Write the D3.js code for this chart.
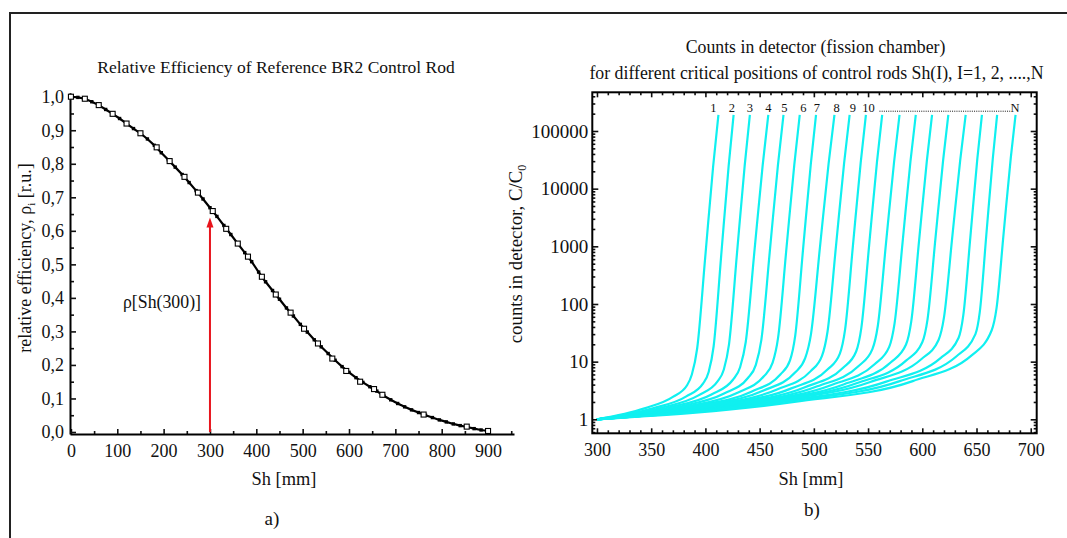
<!DOCTYPE html>
<html>
<head>
<meta charset="utf-8">
<script src="https://cdn.jsdelivr.net/npm/d3@7"></script>
<style>
body { margin: 0; background: #fff; }
text { font-family: "Liberation Serif", "Times New Roman", serif; fill: #111; }
</style>
</head>
<body>
<svg id="chart" width="1067" height="538"></svg>
<script>
// ---- a) relative efficiency of the reference rod ----
const effSh = d3.range(0, 901, 15);
const effRho = [
  1.000, 0.998, 0.994, 0.985, 0.975, 0.962, 0.949, 0.935, 0.920, 0.905,
  0.891, 0.874, 0.855, 0.833, 0.812, 0.790, 0.768, 0.744, 0.720, 0.695,
  0.669, 0.643, 0.616, 0.589, 0.562, 0.535, 0.508, 0.477, 0.448, 0.422,
  0.396, 0.370, 0.346, 0.321, 0.298, 0.275, 0.254, 0.234, 0.214, 0.195,
  0.178, 0.162, 0.148, 0.135, 0.122, 0.108, 0.096, 0.085, 0.075, 0.066,
  0.058, 0.050, 0.043, 0.036, 0.030, 0.024, 0.019, 0.015, 0.010, 0.006,
  0.003
];
const refSh  = [0, 30, 60, 90, 120, 150, 185, 213, 245, 274, 306, 335, 360, 382, 412, 442, 474, 503, 533, 564, 594, 624, 654, 672, 761, 854, 900];
const refRho = [1.0, 0.994, 0.975, 0.949, 0.920, 0.891, 0.849, 0.808, 0.761, 0.714, 0.659, 0.606, 0.562, 0.523, 0.463, 0.410, 0.356, 0.308, 0.264, 0.219, 0.182, 0.150, 0.128, 0.111, 0.052, 0.016, 0.003];
const arrowSh = 300, arrowTip = 0.64;

const xTicksL = [0, 100, 200, 300, 400, 500, 600, 700, 800, 900];
const yTicksL = [0, 0.1, 0.2, 0.3, 0.4, 0.5, 0.6, 0.7, 0.8, 0.9, 1.0];

// ---- b) counts in detector, one curve per critical position ----
const countCurves = [
  [[300,1],[343.8,1.55],[370,2.45],[383.1,3.9],[387.5,6],[392.4,16.9],[399.8,637],[407.1,24000],[412,190000]],
  [[300,1],[351.5,1.55],[382.4,2.5],[397.9,4.2],[403,6.6],[407.6,18.5],[414.5,671],[421.4,24400],[426,190000]],
  [[300,1],[358.5,1.57],[393.6,2.6],[411.2,4.53],[417,7.3],[421.8,20.2],[429,709],[436.2,24900],[441,190000]],
  [[300,1],[366,1.6],[405.6,2.7],[425.4,4.85],[432,8],[437.2,21.9],[445,746],[452.8,25400],[458,190000]],
  [[300,1],[373.3,1.62],[417.2,2.8],[439.2,5.21],[446.5,8.8],[451.6,23.9],[459.3,785],[466.9,25900],[472,190000]],
  [[300,1],[381,1.64],[429.6,2.9],[453.9,5.57],[462,9.6],[467,25.8],[474.5,824],[482,26300],[487,190000]],
  [[300,1],[389,1.68],[442.4,3.02],[469.1,5.97],[478,10.5],[482.8,28],[490,867],[497.2,26800],[502,190000]],
  [[300,1],[396,1.71],[453.6,3.15],[482.4,6.4],[492,11.5],[497.4,30.4],[505.5,912],[513.6,27300],[519,190000]],
  [[300,1],[403.8,1.75],[466,3.29],[497.1,6.85],[507.5,12.6],[512.6,33],[520.3,957],[527.9,27800],[533,190000]],
  [[300,1],[412,1.78],[479.2,3.44],[512.8,7.35],[524,13.8],[528.8,35.8],[536,1010],[543.2,28300],[548,190000]],
  [[300,1],[419.5,1.82],[491.2,3.57],[527,7.83],[539,15],[543.8,38.5],[551,1050],[558.2,28800],[563,190000]],
  [[300,1],[427,1.85],[503.2,3.73],[541.3,8.41],[554,16.5],[559,42],[566.5,1110],[574,29300],[579,190000]],
  [[300,1],[434.8,1.89],[515.6,3.89],[556,9],[569.5,18],[574.4,45.5],[581.8,1160],[589.1,29900],[594,190000]],
  [[300,1],[442.5,1.93],[528,4.07],[570.8,9.68],[585,19.8],[589.8,49.5],[597,1230],[604.2,30400],[609,190000]],
  [[300,1],[450,1.97],[540,4.25],[585,10.4],[600,21.7],[604.8,53.7],[612,1290],[619.2,31000],[624,190000]],
  [[300,1],[457.5,2.01],[552,4.44],[599.3,11.1],[615,23.8],[620,58.5],[627.5,1360],[635,31600],[640,190000]],
  [[300,1],[466.8,2.03],[566.8,4.5],[616.8,11.5],[633.5,26],[637.8,63.4],[644.3,1430],[650.7,32100],[655,190000]],
  [[300,1],[474.5,2.05],[579.2,4.6],[631.6,12.4],[649,30],[653,72],[659,1540],[665,33000],[669,190000]],
  [[300,1],[482,2.0],[591.2,4.6],[645.8,13],[664,35],[668.4,82.8],[675,1680],[681.6,34100],[686,190000]]
];
const curveLabels   = ['1', '2', '3', '4', '5', '6', '7', '8', '9', '10'];
const curveLabelSh  = [407.3, 424.3, 441.1, 458, 472.8, 490.3, 502.7, 521.1, 535.9, 550.3];
const lastLabel = 'N', lastLabelSh = 685.6;
const dotsFrom = 560.5, dotsTo = 681, labelLevel = 216000;

const xTicksR = [300, 350, 400, 450, 500, 550, 600, 650, 700];
const yTicksR = [1, 10, 100, 1000, 10000, 100000];

const svg = d3.select('#chart');

// outer frame
svg.append('rect')
  .attr('x', 10).attr('y', 13).attr('width', 1100).attr('height', 600)
  .attr('fill', 'none').attr('stroke', '#222').attr('stroke-width', 2);

// ================= left chart =================
const xL = d3.scaleLinear().domain([-2, 956]).range([70, 514]);
const yL = d3.scaleLinear().domain([-0.006, 1.012]).range([434, 92.7]);
const gL = svg.append('g');

const fmtComma = (d) => d3.format('.1f')(d).replace('.', ',');

gL.append('g').attr('transform', 'translate(0,434)')
  .call(d3.axisBottom(xL).tickValues(d3.range(50, 951, 100)).tickSize(-3).tickFormat(''))
  .call((g) => g.select('.domain').remove());
gL.append('g').attr('transform', 'translate(0,434)')
  .call(d3.axisBottom(xL).tickValues(xTicksL).tickSizeInner(-5).tickSizeOuter(0).tickPadding(10))
  .call((g) => g.select('.domain').attr('stroke-width', 2));
gL.append('g').attr('transform', 'translate(70,0)')
  .call(d3.axisLeft(yL).tickValues(d3.range(0.05, 1.0, 0.1)).tickSize(-4).tickFormat(''))
  .call((g) => g.select('.domain').remove());
gL.append('g').attr('transform', 'translate(70,0)')
  .call(d3.axisLeft(yL).tickValues(yTicksL).tickSizeInner(-6).tickSizeOuter(0).tickPadding(6).tickFormat(fmtComma))
  .call((g) => g.select('.domain').attr('stroke-width', 2));

gL.selectAll('.tick line').attr('stroke', '#111').attr('stroke-width', 1.6);
gL.selectAll('.tick text').style('font-size', '18px').attr('fill', '#111');

// curve
const lineL = d3.line().x((d, i) => xL(effSh[i])).y((d) => yL(d));
gL.append('path').attr('d', lineL(effRho))
  .attr('fill', 'none').attr('stroke', '#000').attr('stroke-width', 2.2);
gL.selectAll('.dot').data(effRho).join('rect')
  .attr('x', (d, i) => xL(effSh[i]) - 1.7).attr('y', (d) => yL(d) - 1.7)
  .attr('width', 3.4).attr('height', 3.4).attr('fill', '#000');
gL.selectAll('.ref').data(refRho).join('rect')
  .attr('x', (d, i) => xL(refSh[i]) - 2.5).attr('y', (d) => yL(d) - 2.5)
  .attr('width', 5).attr('height', 5)
  .attr('fill', '#fff').attr('stroke', '#000').attr('stroke-width', 1.1);

// red arrow
const ax = xL(arrowSh), tipY = yL(arrowTip);
gL.append('line').attr('x1', ax).attr('x2', ax).attr('y1', yL(0)).attr('y2', tipY + 8)
  .attr('stroke', '#e8141c').attr('stroke-width', 2);
gL.append('path')
  .attr('d', `M${ax},${tipY} L${ax - 3.5},${tipY + 10} L${ax + 3.5},${tipY + 10} Z`)
  .attr('fill', '#e8141c');

gL.append('text').attr('x', 162).attr('y', 308).attr('text-anchor', 'middle')
  .style('font-size', '17.8px').text('ρ[Sh(300)]');

gL.append('text').attr('x', 276).attr('y', 73).attr('text-anchor', 'middle')
  .style('font-size', '17.5px').text('Relative Efficiency of Reference BR2 Control Rod');
gL.append('text').attr('x', 284).attr('y', 485).attr('text-anchor', 'middle')
  .style('font-size', '18.4px').text('Sh [mm]');
gL.append('text').attr('x', 272).attr('y', 525).attr('text-anchor', 'middle')
  .style('font-size', '19px').text('a)');
const yLab = gL.append('text').attr('transform', 'translate(31,258) rotate(-90)')
  .attr('text-anchor', 'middle').style('font-size', '18px');
yLab.append('tspan').text('relative efficiency, ρ');
yLab.append('tspan').attr('dy', 4).style('font-size', '11px').text('i');
yLab.append('tspan').attr('dy', -4).text(' [r.u.]');

// ================= right chart =================
const xR = d3.scaleLinear().domain([295.7, 705.5]).range([592.3, 1036.7]);
const yR = d3.scaleLog().domain([0.572, 469000]).range([433.3, 92.3]);
const gR = svg.append('g');

gR.append('defs').append('clipPath').attr('id', 'clipR').append('rect')
  .attr('x', 592.3).attr('y', 92.3).attr('width', 444.4).attr('height', 341);

const minorX = d3.range(300, 701, 10).filter((v) => v % 50 !== 0);
const minorY = [];
[0.1, 1, 10, 100, 1000, 10000, 100000].forEach((dec) => {
  for (let m = 2; m <= 9; m++) {
    const v = m * dec;
    if (v > 0.572 && v < 469000) minorY.push(v);
  }
});

function ticks(axis, tr, values, size) {
  gR.append('g').attr('transform', tr)
    .call(axis.tickValues(values).tickSize(-size).tickFormat(''))
    .call((g) => g.select('.domain').remove());
}
ticks(d3.axisBottom(xR), 'translate(0,433.3)', minorX, 3);
ticks(d3.axisTop(xR), 'translate(0,92.3)', minorX, 3);
ticks(d3.axisTop(xR), 'translate(0,92.3)', xTicksR, 5);
ticks(d3.axisLeft(yR), 'translate(592.3,0)', minorY, 3);
ticks(d3.axisRight(yR), 'translate(1036.7,0)', minorY, 3);
ticks(d3.axisRight(yR), 'translate(1036.7,0)', yTicksR, 6);

gR.append('g').attr('class', 'xr').attr('transform', 'translate(0,433.3)')
  .call(d3.axisBottom(xR).tickValues(xTicksR).tickSizeInner(-5).tickSizeOuter(0).tickPadding(10))
  .call((g) => g.select('.domain').remove());
gR.append('g').attr('class', 'yr').attr('transform', 'translate(592.3,0)')
  .call(d3.axisLeft(yR).tickValues(yTicksR).tickSizeInner(-6).tickSizeOuter(0).tickPadding(4).tickFormat(d3.format('d')))
  .call((g) => g.select('.domain').remove());

gR.selectAll('.tick line').attr('stroke', '#111').attr('stroke-width', 1.6);
gR.selectAll('.xr .tick text').style('font-size', '18px').attr('fill', '#111');
gR.selectAll('.yr .tick text').style('font-size', '19px').attr('fill', '#111');

const lineR = d3.line().curve(d3.curveMonotoneX)
  .x((d) => xR(d[0])).y((d) => yR(d[1]));
gR.append('g').attr('clip-path', 'url(#clipR)')
  .selectAll('path').data(countCurves).join('path')
  .attr('d', lineR)
  .attr('fill', 'none').attr('stroke', '#10f0f0').attr('stroke-width', 2.2);

gR.append('rect').attr('x', 592.3).attr('y', 92.3).attr('width', 444.4).attr('height', 341)
  .attr('fill', 'none').attr('stroke', '#000').attr('stroke-width', 2);

gR.selectAll('.clab').data(curveLabels).join('text')
  .attr('x', (d, i) => xR(curveLabelSh[i])).attr('y', yR(labelLevel))
  .attr('text-anchor', 'middle').style('font-size', '12.5px').text((d) => d);
gR.append('text').attr('x', xR(lastLabelSh)).attr('y', yR(labelLevel))
  .attr('text-anchor', 'middle').style('font-size', '12.5px').text(lastLabel);
gR.append('line').attr('x1', xR(dotsFrom)).attr('x2', xR(dotsTo))
  .attr('y1', yR(labelLevel) - 0.5).attr('y2', yR(labelLevel) - 0.5)
  .attr('stroke', '#111').attr('stroke-width', 1).attr('stroke-dasharray', '1 1.2');

gR.append('text').attr('x', 815.5).attr('y', 53).attr('text-anchor', 'middle')
  .style('font-size', '17.8px').text('Counts in detector (fission chamber)');
gR.append('text').attr('x', 816.5).attr('y', 79).attr('text-anchor', 'middle')
  .style('font-size', '17.8px').text('for different critical positions of control rods Sh(I), I=1, 2, ....,N');
gR.append('text').attr('x', 811).attr('y', 485).attr('text-anchor', 'middle')
  .style('font-size', '18.4px').text('Sh [mm]');
gR.append('text').attr('x', 812).attr('y', 516).attr('text-anchor', 'middle')
  .style('font-size', '19px').text('b)');
const yLabR = gR.append('text').attr('transform', 'translate(522,254) rotate(-90)')
  .attr('text-anchor', 'middle').style('font-size', '18.8px');
yLabR.append('tspan').text('counts in detector, C/C');
yLabR.append('tspan').attr('dy', 4).style('font-size', '12px').text('0');
</script>
</body>
</html>
